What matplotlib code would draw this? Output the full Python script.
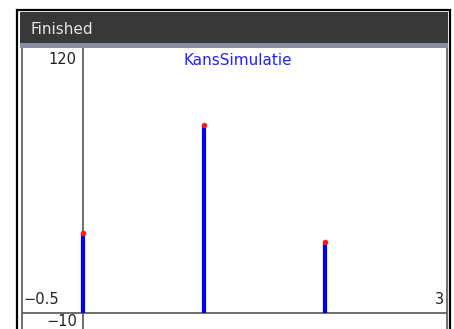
import matplotlib
matplotlib.use("Agg")
import matplotlib.pyplot as plt
from matplotlib.patches import Rectangle

# simulation outcome counts
outcomes = [0, 1, 2]
counts = [36, 85, 32]

XMIN, XMAX = -0.5, 3
YMAX = 120
YMIN_LABEL = "−10"
TITLE = "KansSimulatie"
STATUS = "Finished"

W, H = 454, 329
fig = plt.figure(figsize=(W / 100, H / 100), dpi=100)
fig.patch.set_facecolor("white")


def box(x, y, w, h):
    # pixel box (top-left origin) -> figure fraction
    return (x / W, 1 - (y + h) / H), w / W, h / H


def frame_rect(x, y, w, h, **kw):
    (fx, fy), fw, fh = box(x, y, w, h)
    fig.patches.append(Rectangle((fx, fy), fw, fh, transform=fig.transFigure, **kw))


# outer screen border, header bar and strip
frame_rect(17, 10, 433, 330, fill=False, edgecolor="black", linewidth=1.6)
frame_rect(19.5, 12, 428.5, 31, facecolor="#383838", edgecolor="none")
frame_rect(19.5, 43, 428.5, 5, facecolor="#8c8ca2", edgecolor="none")
fig.text(30 / W, 1 - 29.5 / H, STATUS, color="#e4e4e4", fontsize=11,
         ha="left", va="center")

# plot window
top_px, zero_px = 48, 312.5
scale = (zero_px - top_px) / YMAX
ybot = -(H - zero_px) / scale
ax = fig.add_axes([22 / W, 0, (446.5 - 22) / W, (H - top_px) / H])
ax.set_xlim(XMIN, XMAX)
ax.set_ylim(ybot, YMAX)
ax.set_xticks([])
ax.set_yticks([])
for s in ("top", "bottom"):
    ax.spines[s].set_visible(False)
for s in ("left", "right"):
    ax.spines[s].set_color("#555555")
    ax.spines[s].set_linewidth(1.2)

ax.axhline(0, color="#555555", linewidth=1.2, zorder=1)
ax.axvline(0, color="#555555", linewidth=1.2, zorder=1)

ax.vlines(outcomes, 0, counts, colors="#0000ff", linewidth=3, zorder=3)
ax.plot(outcomes, counts, linestyle="none", marker="o", markersize=4,
        color="#ff1a1a", markeredgewidth=0, zorder=4)

lab = dict(fontsize=10.5, color="#222222", textcoords="offset pixels",
           annotation_clip=False)
ax.annotate(str(YMAX), (0, YMAX), xytext=(-6.5, -11.5), ha="right", va="center", **lab)
ax.annotate("−0.5", (XMIN, 0), xytext=(1.5, 12.5), ha="left", va="center", **lab)
ax.annotate(str(XMAX), (XMAX, 0), xytext=(-2.5, 12.5), ha="right", va="center", **lab)
ax.annotate(YMIN_LABEL, (0, 0), xytext=(-5.5, -8.5), ha="right", va="center", **lab)

fig.text(238 / W, 1 - 60.5 / H, TITLE, color="#2222ff", fontsize=11,
         ha="center", va="center")

fig.savefig("out.png", dpi=100)
